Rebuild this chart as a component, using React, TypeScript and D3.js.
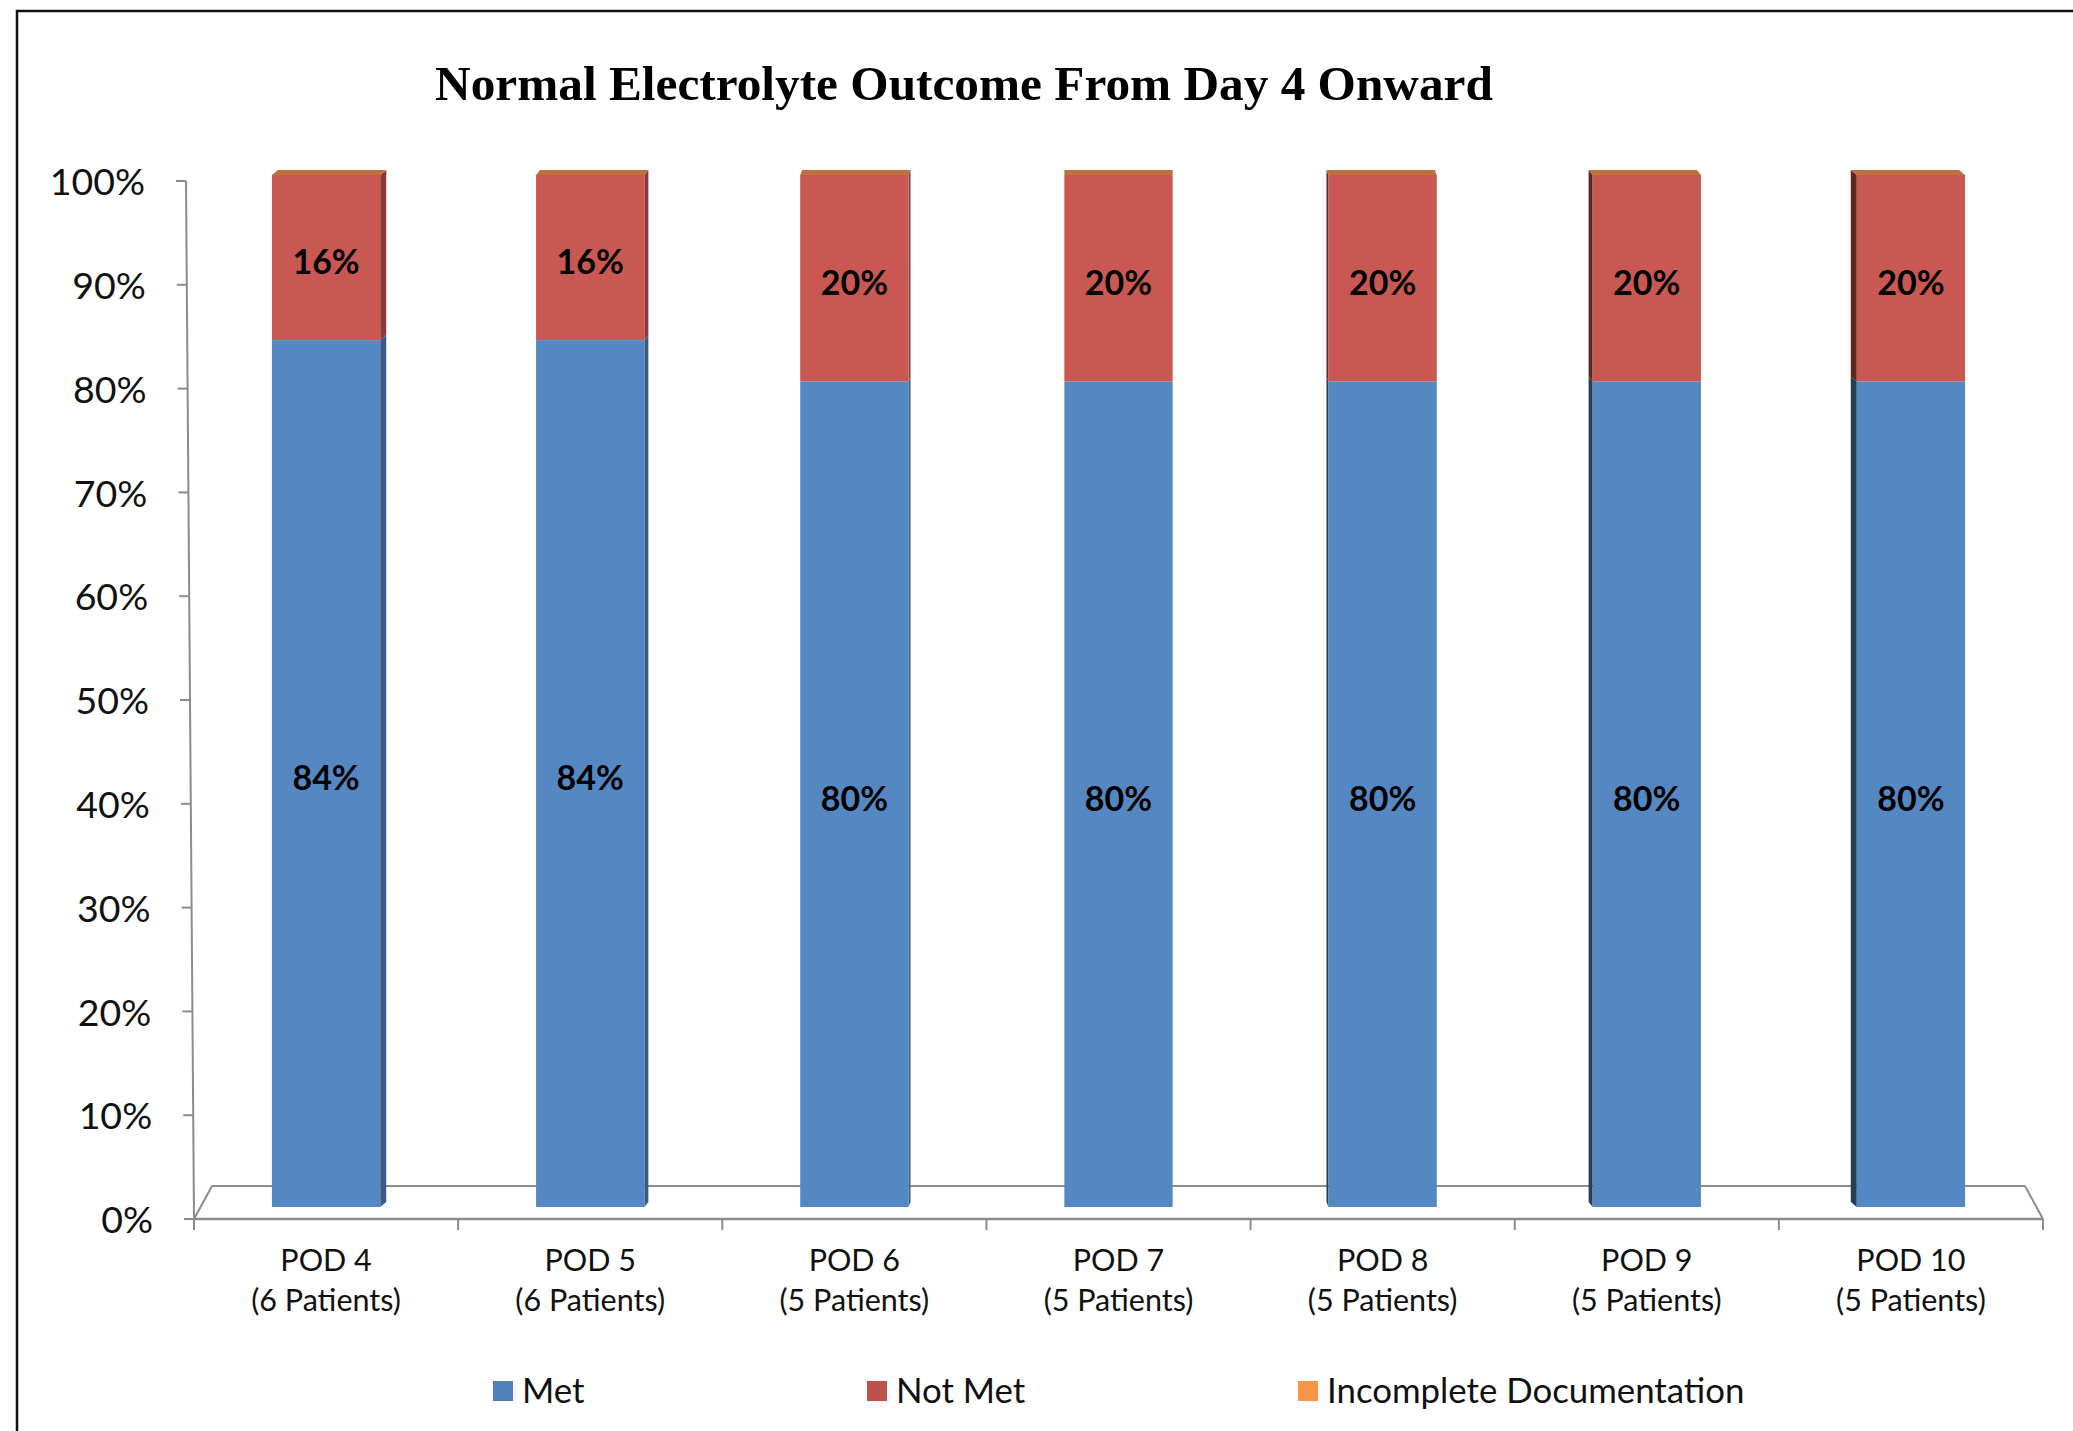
import React from 'react';
import * as d3 from 'd3';

const width = 2073;
const height = 1431;

const categories = ['POD 4', 'POD 5', 'POD 6', 'POD 7', 'POD 8', 'POD 9', 'POD 10'];
const patientCounts = ['(6 Patients)', '(6 Patients)', '(5 Patients)', '(5 Patients)', '(5 Patients)', '(5 Patients)', '(5 Patients)'];
const met = [84, 84, 80, 80, 80, 80, 80];
const notMet = [16, 16, 20, 20, 20, 20, 20];
const incomplete = [0, 0, 0, 0, 0, 0, 0];
const seriesNames = ['Met', 'Not Met', 'Incomplete Documentation'];
const seriesColors = ['#5587c3', '#c95853', '#f79646'];
const legendColors = ['#4f81bd', '#c0504d', '#f79646'];
const yTicks = [0, 10, 20, 30, 40, 50, 60, 70, 80, 90, 100];

const font = 'Lato, "Open Sans", sans-serif';

// floor / axis geometry (3d look)
const floorFront = 1219;
const floorBack = 1186;
const floorLeft = 194;
const floorRight = 2043;
const floorDepthX = 18;
const barDepth = 5;

const App = () => {
  const rows = categories.map((c, i) => ({ cat: c, met: met[i], notMet: notMet[i], incomplete: incomplete[i] }));
  const keys = ['met', 'notMet', 'incomplete'];
  const stacked = d3.stack<any>().keys(keys)(rows);

  const x = d3.scaleBand().domain(categories).range([floorLeft, floorRight]).paddingInner(0.59).paddingOuter(0.295);
  const xTicks = d3.scaleBand().domain(categories).range([floorLeft, floorRight]);
  const yBar = d3.scaleLinear().domain([0, 100]).range([1207, 175]);
  const yAxis = d3.scaleLinear().domain([0, 100]).range([floorFront, 181]);
  const axisX = d3.scaleLinear().domain([0, 100]).range([floorLeft, 186]);
  const mid = (floorLeft + floorRight) / 2;
  const sideScale = d3.scaleLinear().domain([x('POD 4')! + x.bandwidth() / 2, mid]).range([6, 0]);

  const bw = x.bandwidth();

  return (
    <svg width={width} height={height} style={{ position: 'absolute', left: 0, top: 0, background: '#fff' }}>
      <rect x={17} y={11} width={width} height={height} fill="white" stroke="#111" strokeWidth={2.5} />

      <text x={964} y={100} textAnchor="middle" fontFamily='"Liberation Serif", "Times New Roman", serif' fontWeight="bold" fontSize={49.3}>
        Normal Electrolyte Outcome From Day 4 Onward
      </text>

      {/* floor outline */}
      <g stroke="#8c8c8c" fill="none">
        <line x1={floorLeft + floorDepthX} y1={floorBack} x2={floorRight - floorDepthX} y2={floorBack} strokeWidth={2} />
        <line x1={floorLeft} y1={floorFront} x2={floorLeft + floorDepthX} y2={floorBack} strokeWidth={2} />
        <line x1={floorRight} y1={floorFront} x2={floorRight - floorDepthX} y2={floorBack} strokeWidth={2} />
        <line x1={floorLeft} y1={floorFront} x2={floorRight} y2={floorFront} strokeWidth={2.5} />
        {d3.range(categories.length + 1).map(i => {
          const xx = floorLeft + i * xTicks.step();
          return <line key={i} x1={xx} y1={floorFront} x2={xx} y2={floorFront + 11} strokeWidth={2} />;
        })}
        <line x1={axisX(100)} y1={yAxis(100)} x2={axisX(0)} y2={yAxis(0)} strokeWidth={2} />
        {yTicks.map(t => (
          <line key={t} x1={axisX(t) - 10} y1={yAxis(t)} x2={axisX(t)} y2={yAxis(t)} strokeWidth={2} />
        ))}
      </g>

      {/* y tick labels */}
      {yTicks.map(t => (
        <text key={t} x={axisX(t) - 41} y={yAxis(t) + 1} dy="0.35em" textAnchor="end" fontFamily={font} fontSize={37.5} fill="#111">
          {t}%
        </text>
      ))}

      {/* bars */}
      {categories.map((c, i) => {
        const x0 = x(c)!;
        const dx = sideScale(x0 + bw / 2);
        const top = yBar(stacked[stacked.length - 1][i][1]);
        return (
          <g key={c}>
            {stacked.map((s, si) => {
              const y0 = yBar(s[i][0]);
              const y1 = yBar(s[i][1]);
              if (y0 - y1 <= 0) return null;
              const base = d3.color(seriesColors[si])!;
              const sideCol = dx >= 0 ? base.darker(1.1).toString() : base.darker(2.2).toString();
              const sx = dx >= 0 ? x0 + bw : x0;
              const side = [[sx, y0], [sx + dx, y0 - barDepth], [sx + dx, y1 - barDepth], [sx, y1]];
              return (
                <g key={si}>
                  {Math.abs(dx) > 0.3 && <polygon points={side.map(p => p.join(',')).join(' ')} fill={sideCol} />}
                  <rect x={x0} y={y1} width={bw} height={y0 - y1} fill={seriesColors[si]} />
                </g>
              );
            })}
            <polygon
              points={[[x0, top], [x0 + bw, top], [x0 + bw + dx, top - barDepth], [x0 + dx, top - barDepth]].map(p => p.join(',')).join(' ')}
              fill="#c0703c"
            />
            {stacked.map((s, si) => {
              const v = s[i][1] - s[i][0];
              if (v <= 0) return null;
              return (
                <text key={si} x={x0 + bw / 2} y={(yBar(s[i][0]) + yBar(s[i][1])) / 2 + 5} dy="0.35em" textAnchor="middle"
                  fontFamily={font} fontWeight="bold" fontSize={34} fill="#000">
                  {v}%
                </text>
              );
            })}
          </g>
        );
      })}

      {/* category labels */}
      {categories.map((c, i) => (
        <text key={c} x={xTicks(c)! + xTicks.bandwidth() / 2} textAnchor="middle" fontFamily={font} fontSize={30.5} fill="#111">
          <tspan x={xTicks(c)! + xTicks.bandwidth() / 2} y={1271}>{c}</tspan>
          <tspan x={xTicks(c)! + xTicks.bandwidth() / 2} y={1311}>{patientCounts[i]}</tspan>
        </text>
      ))}

      {/* legend */}
      {seriesNames.map((n, i) => {
        const lx = [493, 867, 1298][i];
        return (
          <g key={n}>
            <rect x={lx} y={1381} width={20} height={20} fill={legendColors[i]} />
            <text x={lx + 29} y={1391} dy="0.35em" fontFamily={font} fontSize={34.8} fill="#111">{n}</text>
          </g>
        );
      })}
    </svg>
  );
};

export default App;
